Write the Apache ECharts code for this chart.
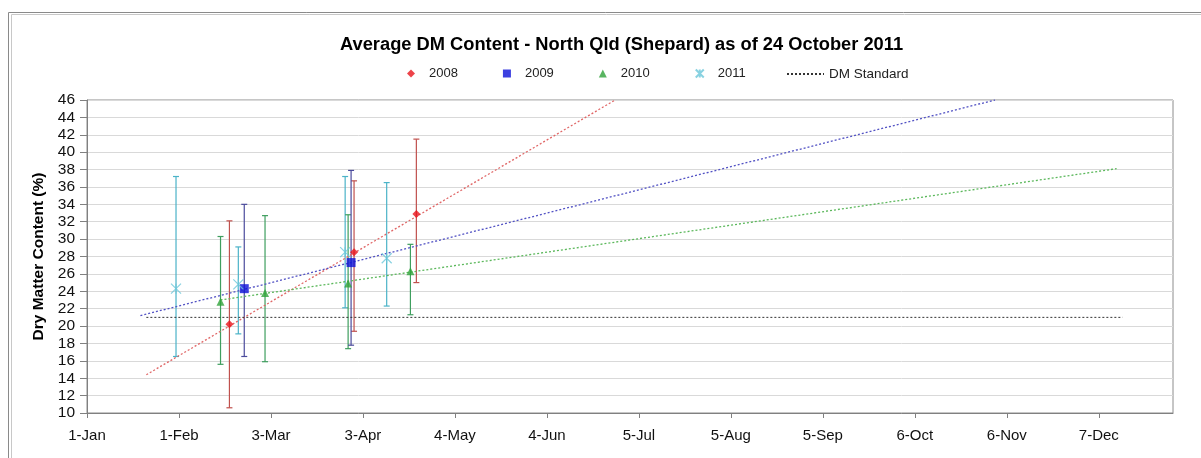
<!DOCTYPE html>
<html>
<head>
<meta charset="utf-8">
<script src="https://cdn.jsdelivr.net/npm/echarts@6/dist/echarts.min.js"></script>
<style>
  html, body { margin: 0; padding: 0; background: #fff; }
  #chart { width: 1201px; height: 458px; }
</style>
</head>
<body>
<div id="chart"></div>
<script>
// x values are days after 1-Jan, ticks every 31 days (Excel style)
const tickLabels = ['1-Jan', '1-Feb', '3-Mar', '3-Apr', '4-May', '4-Jun', '5-Jul', '5-Aug', '5-Sep', '6-Oct', '6-Nov', '7-Dec'];

// 2008
const days2008 = [48, 90, 111];
const mean2008 = [20.2, 28.5, 32.9];
const low2008 = [10.6, 19.4, 25.0];
const high2008 = [32.1, 36.7, 41.5];
const trend2008 = [[20, 14.4], [178, 46]];

// 2009
const days2009 = [53, 89];
const mean2009 = [24.3, 27.3];
const low2009 = [16.5, 17.8];
const high2009 = [34.0, 37.9];
const trend2009 = [[18, 21.2], [306, 46]];

// 2010
const days2010 = [45, 60, 88, 109];
const mean2010 = [22.8, 23.8, 24.9, 26.3];
const low2010 = [15.6, 15.9, 17.4, 21.3];
const high2010 = [30.3, 32.7, 32.8, 29.4];
const trend2010 = [[45, 23.0], [347, 38.1]];

// 2011
const days2011 = [30, 51, 87, 101];
const mean2011 = [24.3, 24.8, 28.5, 27.8];
const low2011 = [16.5, 19.1, 22.1, 22.3];
const high2011 = [37.2, 29.1, 37.2, 36.5];

// DM standard
const dmStandard = [[20, 21], [349, 21]];

const chart = echarts.init(document.getElementById('chart'));

// error bars with caps
const errorBars = (days, low, high, color) => ({
  type: 'custom',
  silent: true,
  z: 1,
  data: days.map((d, i) => [d, low[i], high[i]]),
  encode: { x: 0, y: [1, 2] },
  renderItem: (params, api) => {
    const top = api.coord([api.value(0), api.value(2)]);
    const bot = api.coord([api.value(0), api.value(1)]);
    const w = 3;
    const style = { stroke: color, lineWidth: 1.2 };
    return {
      type: 'group',
      children: [
        { type: 'line', shape: { x1: top[0], y1: top[1], x2: bot[0], y2: bot[1] }, style },
        { type: 'line', shape: { x1: top[0] - w, y1: top[1], x2: top[0] + w, y2: top[1] }, style },
        { type: 'line', shape: { x1: bot[0] - w, y1: bot[1], x2: bot[0] + w, y2: bot[1] }, style }
      ]
    };
  }
});

const trendLine = (data, color) => ({
  type: 'line',
  data: data,
  symbol: 'none',
  silent: true,
  z: 2,
  lineStyle: { color: color, width: 1.3, type: [2, 2] }
});

const points = (days, vals) => days.map((d, i) => [d, vals[i]]);

const option = {
  animation: false,
  textStyle: { fontFamily: 'Liberation Sans, Arial, sans-serif' },
  title: {
    text: 'Average DM Content - North Qld (Shepard) as of 24 October 2011',
    left: 335,
    top: 31,
    textStyle: { fontSize: 18.3, fontWeight: 'bold', color: '#000' }
  },
  legend: [
    {
      data: ['2008', '2009', '2010', '2011'],
      left: 402,
      top: 62,
      itemWidth: 8,
      itemHeight: 8,
      itemGap: 45,
      textStyle: { fontSize: 13, color: '#222', padding: [0, 0, 0, 9] }
    },
    {
      data: [{ name: 'DM Standard', itemStyle: { opacity: 0 } }],
      left: 781,
      top: 62,
      itemWidth: 37,
      itemHeight: 8,
      textStyle: { fontSize: 13.5, color: '#222' }
    }
  ],
  graphic: [
    { type: 'rect', shape: { x: 8.5, y: 12.5, width: 1200, height: 460 }, style: { fill: 'none', stroke: '#8a8a8a', lineWidth: 1 } },
    { type: 'rect', shape: { x: 11.5, y: 14.5, width: 1200, height: 460 }, style: { fill: 'none', stroke: '#c8c8c8', lineWidth: 1 } }
  ],
  grid: {
    left: 87,
    right: 28,
    top: 100,
    bottom: 45,
    show: true,
    borderColor: '#8c8c8c',
    borderWidth: 1
  },
  xAxis: {
    type: 'value',
    min: 0,
    max: 366,
    interval: 31,
    axisLine: { lineStyle: { color: '#808080' } },
    axisTick: { show: true, length: 5, lineStyle: { color: '#808080' } },
    axisLabel: {
      fontSize: 15,
      color: '#111',
      margin: 15,
      showMaxLabel: false,
      formatter: v => tickLabels[Math.round(v / 31)] || ''
    },
    splitLine: { show: false }
  },
  yAxis: {
    type: 'value',
    min: 10,
    max: 46,
    interval: 2,
    name: 'Dry Matter Content (%)',
    nameLocation: 'middle',
    nameGap: 40,
    nameTextStyle: { fontSize: 15.5, fontWeight: 'bold', color: '#000' },
    axisLine: { show: true, lineStyle: { color: '#808080' } },
    axisTick: { show: true, length: 7, lineStyle: { color: '#808080' } },
    axisLabel: { fontSize: 15.5, color: '#111', margin: 12 },
    splitLine: { lineStyle: { color: '#d9d9d9' } }
  },
  series: [
    errorBars(days2011, low2011, high2011, '#4bb3c8'),
    errorBars(days2010, low2010, high2010, '#3e9e5e'),
    errorBars(days2008, low2008, high2008, '#c0504d'),
    errorBars(days2009, low2009, high2009, '#4b4b9c'),
    trendLine(trend2008, '#e06666'),
    trendLine(trend2009, '#5252c4'),
    trendLine(trend2010, '#5cb85c'),
    {
      name: 'DM Standard',
      type: 'line',
      data: dmStandard,
      symbol: 'none',
      z: 2,
      lineStyle: { color: '#333', width: 1, type: [2, 2] },
      itemStyle: { color: '#333' }
    },
    {
      name: '2008',
      type: 'scatter',
      data: points(days2008, mean2008),
      symbol: 'diamond',
      symbolSize: 8,
      z: 5,
      itemStyle: { color: '#e8141b' }
    },
    {
      name: '2009',
      type: 'scatter',
      data: points(days2009, mean2009),
      symbol: 'rect',
      symbolSize: 9,
      z: 5,
      itemStyle: { color: '#0b10d8' }
    },
    {
      name: '2010',
      type: 'scatter',
      data: points(days2010, mean2010),
      symbol: 'triangle',
      symbolSize: 8,
      z: 5,
      itemStyle: { color: '#2fa33a' }
    },
    {
      name: '2011',
      type: 'scatter',
      data: points(days2011, mean2011),
      symbol: 'path://M0 0L10 10M10 0L0 10M5 0L5 10',
      symbolSize: 10,
      z: 5,
      itemStyle: { color: 'rgba(0,0,0,0)', borderColor: '#6cc7d9', borderWidth: 1.2 }
    }
  ]
};

chart.setOption(option);
</script>
</body>
</html>
